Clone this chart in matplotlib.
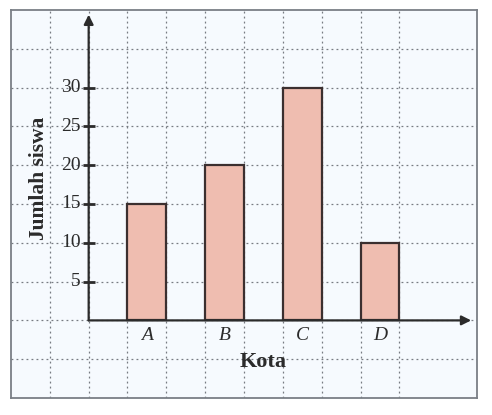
import numpy as np
import matplotlib.pyplot as plt

# data
kota = ["A", "B", "C", "D"]
jumlah = [15, 20, 30, 10]
yticks = [5, 10, 15, 20, 25, 30]

fig = plt.figure(figsize=(4.92, 4.15), dpi=100)
ax = fig.add_axes([11/492, 1 - 398/415, 466/492, 388/415])
ax.set_facecolor("#f6fafe")
ax.set_xlim(-2, 10)
ax.set_ylim(-10, 40)
ax.set_xticks([])
ax.set_yticks([])
for s in ax.spines.values():
    s.set_color("#7a7f86")
    s.set_linewidth(1.3)

# dotted grid
for gx in range(-1, 9):
    ax.axvline(gx, color="#777b82", lw=0.9, ls=(0, (1.5, 2.5)), zorder=1)
for gy in range(-5, 40, 5):
    ax.axhline(gy, color="#777b82", lw=0.9, ls=(0, (1.5, 2.5)), zorder=1)

# bars
pos = np.arange(len(kota)) * 2 + 1.5
ax.bar(pos, jumlah, width=1, color="#efbdb0", edgecolor="#3b2f2f",
       linewidth=1.6, zorder=3)

# axes with arrows
ax.annotate("", xy=(0, 39.4), xytext=(0, 0),
            arrowprops=dict(arrowstyle="-|>", color="#2b2b2b", lw=1.6,
                            mutation_scale=14, shrinkA=0, shrinkB=0), zorder=4)
ax.annotate("", xy=(9.85, 0), xytext=(0, 0),
            arrowprops=dict(arrowstyle="-|>", color="#2b2b2b", lw=1.6,
                            mutation_scale=14, shrinkA=0, shrinkB=0), zorder=4)

# y ticks and labels
ax.plot([0] * len(yticks), yticks, ls="none", marker="_", ms=9, mew=2,
        color="#2b2b2b", zorder=5)
for v in yticks:
    ax.text(-0.2, v, str(v), ha="right", va="center", fontsize=14,
            family="Liberation Serif", color="#2b2b2b")

# x labels
for p, k in zip(pos, kota):
    ax.text(p, -1.9, k, ha="center", va="center", fontsize=14,
            family="Liberation Serif", style="italic", color="#2b2b2b")

ax.text(4.5, -5.4, "Kota", ha="center", va="center", fontsize=16,
        family="Liberation Serif", weight="bold", color="#2b2b2b")
ax.text(-1.28, 18.3, "Jumlah siswa", ha="center", va="center", fontsize=15.5,
        rotation=90, family="Liberation Serif", weight="bold", color="#2b2b2b")

fig.savefig("out.png", dpi=100)
